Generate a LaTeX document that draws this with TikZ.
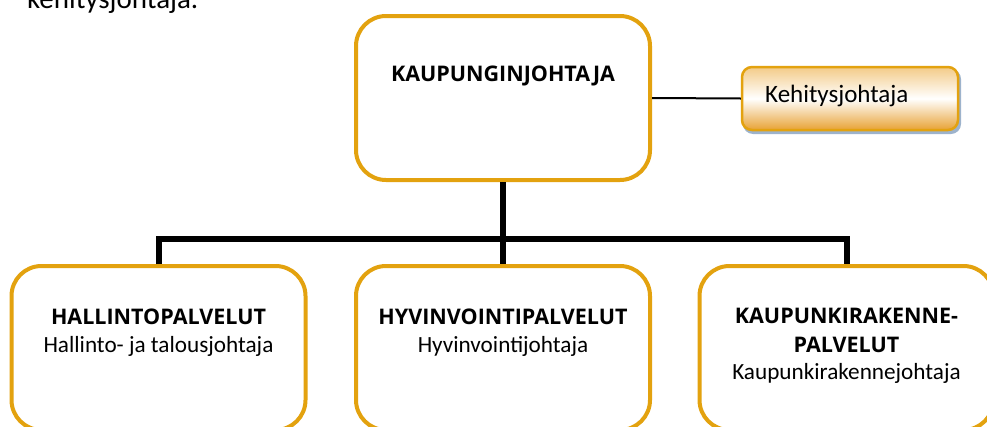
\documentclass[tikz,border=0pt]{standalone}
\usepackage{fontspec}
\setmainfont{Carlito}
\newfontfamily\capsfont{Open Sans}
\definecolor{gold}{HTML}{E3A20F}
\definecolor{shadowblue}{HTML}{9DB3CC}
\definecolor{lightor}{HTML}{F3CB88}
\definecolor{darkor}{HTML}{E8A234}
\begin{document}
\begin{tikzpicture}[x=1pt,y=-1pt,
  orgbox/.style={draw=gold, line width=4pt, rounded corners=30pt, fill=white,
    minimum width=294pt, minimum height=164pt, inner sep=0pt},
  conn/.style={line width=6pt, black},
  thinconn/.style={line width=2pt, black},
  bigtxt/.style={font=\capsfont\fontsize{21.5}{24}\selectfont\bfseries, anchor=base, inner sep=0pt},
  smalltxt/.style={font=\fontsize{23.2}{26}\selectfont, anchor=base, inner sep=0pt}]
\useasboundingbox (0,0) rectangle (987,426);
\clip (0,0) rectangle (987,426);
% top text fragment
\node[anchor=base west, inner sep=0pt, font=\fontsize{29}{32}\selectfont] (frag) at (27,8) {kehitysjohtaja.};
% boxes
\node[orgbox] (top) at (503,98) {};
\node[orgbox] (L) at (158.5,348) {};
\node[orgbox] (M) at (503,348) {};
\node[orgbox] (R) at (846.5,348) {};
% side box with shadow
\node[draw=none, fill=shadowblue, rounded corners=10pt, minimum width=218pt, minimum height=65pt, inner sep=0pt] (kshadow) at (852,101.5) {};
\node[draw=gold, line width=2.5pt, rounded corners=10pt, top color=lightor, bottom color=darkor, middle color=white,
  minimum width=216pt, minimum height=63pt, inner sep=0pt] (K) at (850,98.5) {};
% connectors
\coordinate (bar) at (503,238.5);
\draw[conn] (top.south) -- (M.north);
\draw[conn] (L.north) |- (bar) -| (R.north);
\draw[thinconn] (top.east) -- (K.west);
% texts
\node[bigtxt] (topt) at (503,81) {KAUPUNGINJOHTAJA};
\node[anchor=base west, inner sep=0pt, font=\fontsize{25}{28}\selectfont] (kt) at (765,102) {Kehitysjohtaja};
\node[bigtxt] (Lt1) at (158.5,324) {HALLINTOPALVELUT};
\node[smalltxt] (Lt2) at (158.5,352) {Hallinto- ja talousjohtaja};
\node[bigtxt] (Mt1) at (503,324) {HYVINVOINTIPALVELUT};
\node[smalltxt] (Mt2) at (503,352) {Hyvinvointijohtaja};
\node[bigtxt] (Rt1) at (846.5,323) {KAUPUNKIRAKENNE-};
\node[bigtxt] (Rt2) at (846.5,352) {PALVELUT};
\node[smalltxt] (Rt3) at (846.5,379) {Kaupunkirakennejohtaja};
\end{tikzpicture}
\end{document}
